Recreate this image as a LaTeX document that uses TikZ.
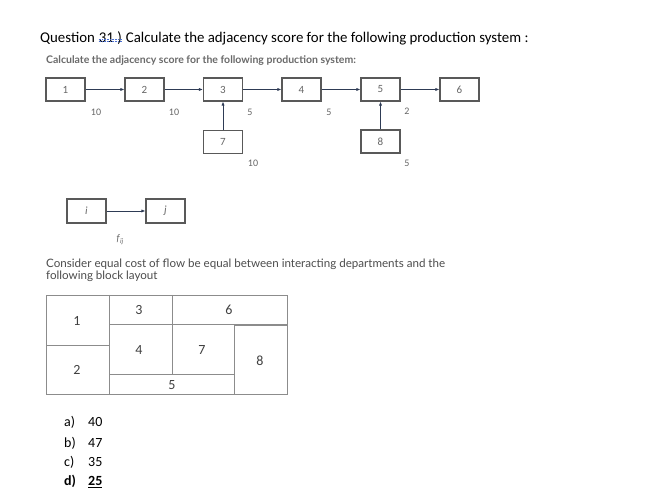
\documentclass[tikz,border=0pt]{standalone}
\usepackage{fontspec}
\setmainfont{Carlito}
\newfontfamily\latofont{Lato}
\usetikzlibrary{arrows.meta}
\definecolor{boxgray}{HTML}{595959}
\definecolor{txtgray}{HTML}{666666}
\definecolor{headgray}{HTML}{6A6A6A}
\definecolor{arrowc}{HTML}{2E3B55}
\definecolor{laygray}{HTML}{8C8C8C}
\definecolor{spellblue}{HTML}{4A6FD0}
\begin{document}
\begin{tikzpicture}[x=1pt,y=-1pt,
  dept/.style={draw=boxgray, line width=1.1pt, minimum width=39pt, minimum height=23pt, inner sep=0pt, font=\fontsize{11}{12}\selectfont, text=txtgray},
  flow/.style={draw=arrowc, line width=0.8pt, -{Latex[length=4pt,width=3.2pt]}},
  lbl/.style={font=\fontsize{10}{11}\selectfont, text=txtgray, inner sep=0pt},
  lay/.style={draw=laygray, line width=0.9pt},
  laynum/.style={font=\fontsize{14}{15}\selectfont, text=black!75, inner sep=0pt},
  ans/.style={font=\fontsize{14}{16}\selectfont, anchor=base west, inner sep=0pt},
  title/.style={font=\fontsize{14.85}{17}\selectfont, anchor=base west, inner sep=0pt},
  para/.style={font=\latofont\fontsize{11.6}{13}\selectfont, text=black!70, anchor=base west, inner sep=0pt, align=left}]
\useasboundingbox[fill=white] (0,0) rectangle (651,494);

% title
\node[title] (q) at (40,43) {Question};
\node[title] (qn) at ([xshift=3.6pt]q.base east) {31 )};
\node[title] (qt) at ([xshift=3.6pt]qn.base east) {Calculate the adjacency score for the following production system :};
\draw[spellblue, line width=0.45pt, dash pattern=on 1pt off 0.6pt] ([yshift=2pt]qn.base west) -- ([yshift=2pt]qn.base east);
\draw[spellblue, line width=0.45pt, dash pattern=on 1pt off 0.6pt] ([yshift=3.6pt]qn.base west) -- ([yshift=3.6pt]qn.base east);

\node[font=\latofont\bfseries\fontsize{10.5}{12}\selectfont, text=headgray, anchor=base west, inner sep=0pt] (h) at (46,64) {Calculate the adjacency score for the following production system:};

% production system
\node[dept] (b1) at (65.5,89.5) {1};
\node[dept] (b2) at (144.5,89.5) {2};
\node[dept] (b3) at (223,89.5) {3};
\node[dept] (b4) at (301.5,89.5) {4};
\node[dept] (b5) at (380.5,89.5) {5};
\node[dept] (b6) at (459.5,89.5) {6};
\node[dept] (b7) at (223,142) {7};
\node[dept] (b8) at (380.5,141.5) {8};
\draw[flow] (b1) -- (b2);
\draw[flow] (b2) -- (b3);
\draw[flow] (b3) -- (b4);
\draw[flow] (b4) -- (b5);
\draw[flow] (b5) -- (b6);
\draw[flow] (b7) -- (b3);
\draw[flow] (b8) -- (b5);
\node[lbl] (l12) at (96,112) {10};
\node[lbl] (l23) at (174,112) {10};
\node[lbl] (l34) at (250,112) {5};
\node[lbl] (l73) at (253,163) {10};
\node[lbl] (l45) at (329,112) {5};
\node[lbl] (l56) at (407,111) {2};
\node[lbl] (l85) at (407,163) {5};

% legend
\node[dept, minimum height=24pt] (ni) at (86.5,211) {\itshape i};
\node[dept, minimum height=24pt] (nj) at (165.5,211) {\itshape j};
\draw[flow] (ni) -- (nj);
\node[lbl] (fij) at (120,240) {\itshape f\kern0.3pt\raisebox{-2pt}{\fontsize{7}{8}\selectfont ij}};

% paragraph
\node[para] (p1) at (46,268) {Consider equal cost of flow be equal between interacting departments and the};
\node[para] (p2) at (46,280) {following block layout};

% block layout
\draw[lay] (46,295) rectangle (287,394);
\draw[lay] (109,295) -- (109,394);
\draw[lay] (46,345) -- (109,345);
\draw[lay] (109,324) -- (172,324);
\draw[lay] (172,295) -- (172,374);
\draw[lay] (109,374) -- (234,374);
\draw[lay] (234,325) -- (234,394);
\draw[lay, line width=1.6pt] (234,325) -- (287,325);
\draw[lay] (172,324) -- (234,324);
\node[laynum] (k1) at (77,321) {1};
\node[laynum] (k2) at (77,370) {2};
\node[laynum] (k3) at (139,310) {3};
\node[laynum] (k6) at (229,310) {6};
\node[laynum] (k4) at (139,350) {4};
\node[laynum] (k7) at (202,350) {7};
\node[laynum] (k8) at (260,361) {8};
\node[laynum] (k5) at (172,385) {5};

% answers
\node[ans] (a1) at (64,427) {a)};
\node[ans] (a2) at (88,427) {40};
\node[ans] (b1a) at (64,447) {b)};
\node[ans] (b2a) at (88,447) {47};
\node[ans] (c1) at (64,466) {c)};
\node[ans] (c2) at (88,466) {35};
\node[ans] (d1) at (64,485.5) {\bfseries d)};
\node[ans] (d2) at (88,485.5) {\bfseries\underline{25}};
\end{tikzpicture}
\end{document}
